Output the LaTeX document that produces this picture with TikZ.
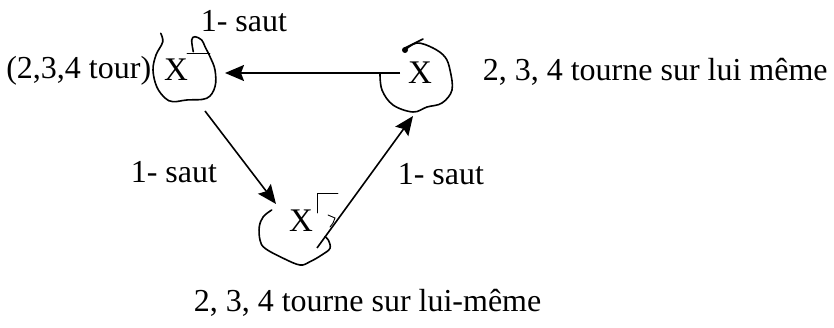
\documentclass[tikz,border=0pt]{standalone}
\usepackage{fontspec}
\setmainfont{Liberation Serif}
\usetikzlibrary{arrows.meta}

\tikzset{every picture/.style={line width=1.6pt}}
\tikzset{
  lbl/.style={inner sep=0pt, font=\fontsize{32}{36}\selectfont},
  bigx/.style={inner sep=0pt, font=\fontsize{33}{38}\selectfont},
  hop/.style={-{Stealth[length=19pt,width=16pt,inset=3pt]}},
  scrib/.style={line width=1.6pt, line join=round, line cap=round},
  tick/.style={line width=0.9pt, line cap=round}
}

\begin{document}
\begin{tikzpicture}[x=1pt,y=1pt,yscale=-1,xscale=1]
\useasboundingbox (0,0) rectangle (834,328);

% Text Node
\node[bigx] (lX) at (176,70) {X};
% Text Node
\node[bigx] (rX) at (420,73) {X};
% Text Node
\node[bigx] (bX) at (301,221) {X};

% Text Node
\node[lbl, anchor=base west] (topHop) at (200,32) {1- saut};
% Text Node
\node[lbl, anchor=base east] (tour) at (152,79) {(2,3,4 tour)};
% Text Node
\node[lbl, anchor=base west] (spinR) at (482,81) {2, 3, 4 tourne sur lui même};
% Text Node
\node[lbl, anchor=base west] (leftHop) at (130,183) {1- saut};
% Text Node
\node[lbl, anchor=base west] (rightHop) at (397,185) {1- saut};
% Text Node
\node[lbl, anchor=base west] (spinB) at (193,311) {2, 3, 4 tourne sur lui-même};

%Straight Lines
\draw[hop] ([shift={(-20,0)}]rX.center) -- ([shift={(49,3)}]lX.center);
%Straight Lines
\draw[hop] ([shift={(29,41)}]lX.center) -- ([shift={(-25,-17)}]bX.center);
%Straight Lines
\draw[hop] ([shift={(16,27)}]bX.center) -- ([shift={(-7,43)}]rX.center);

%Shape: Free Drawing
\draw[scrib] plot[smooth, tension=0.6] coordinates {(160.7,33.3) (162.7,42) (156,55) (153,70) (156.7,86.7) (165,98) (173,101.7) (186.7,100) (206.7,98.3) (215,86.7) (215,70) (210,56.7) (205,46.7) (201.7,40) (195,36.7) (191.7,40) (193.3,51.7)};
\draw[tick] (187,53) -- (210,53);
%Shape: Free Drawing
\fill (405,50) circle (3);
\draw[scrib] (405,48) -- (423,39);
\draw[scrib] plot[smooth, tension=0.6] coordinates {(405,50) (417,43) (433,48) (445,57) (450,70) (452,90) (442,103) (427,107) (413,112) (393,105) (382,90) (380,73)};
%Shape: Free Drawing
\draw[scrib] plot[smooth, tension=0.6] coordinates {(271.7,210) (263.3,216.7) (259.3,226.7) (260,240) (265,248.3) (283.3,258.3) (300,265) (310,261.7) (321.7,255) (330,248.3) (328.3,240) (325,236.7)};
\draw[tick] (317,213) -- (317,193) -- (338,193);
\draw[tick] (328,215) -- (335,218) -- (333,223) -- (330,227);

\end{tikzpicture}
\end{document}
